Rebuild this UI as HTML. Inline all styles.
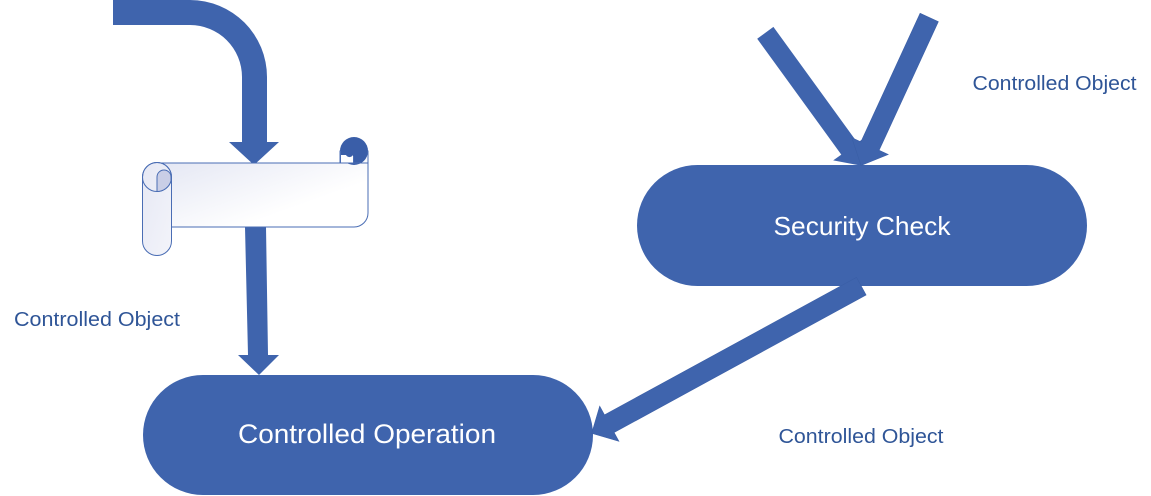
<!DOCTYPE html>
<html>
<head>
<meta charset="utf-8">
<style>
  html, body { margin: 0; padding: 0; background: #ffffff; }
  svg { display: block; }
  .lbl { font-family: "Liberation Sans", sans-serif; font-size: 20px; fill: #2f5597; }
  .wt { font-family: "Liberation Sans", sans-serif; fill: #ffffff; }
</style>
</head>
<body>
<svg width="1151" height="496" viewBox="0 0 1151 496" xmlns="http://www.w3.org/2000/svg">
  <defs>
    <linearGradient id="g1" x1="0" y1="0" x2="1" y2="1">
      <stop offset="0" stop-color="#e1e4f2"/>
      <stop offset="0.7" stop-color="#ffffff"/>
      <stop offset="1" stop-color="#ffffff"/>
    </linearGradient>
    <linearGradient id="g2" x1="0" y1="0" x2="1" y2="1">
      <stop offset="0" stop-color="#e6e8f4"/>
      <stop offset="1" stop-color="#f3f4fa"/>
    </linearGradient>
  </defs>

  <!-- Top curved arrow -->
  <path d="M113,0 L190,0 A77,77 0 0 1 267,77 L267,142 L279,142 L254,165 L229,142 L242,142 L242,77 A52,52 0 0 0 190,25 L113,25 Z" fill="#3f64ad"/>

  <!-- Arrow from scroll down to Controlled Operation -->
  <polygon points="245,227 266,227 268,355 279,355 259,375 238,355 248,355" fill="#3f64ad"/>

  <!-- Scroll body -->
  <path d="M157,163 H340 V151 H368 V213 A14,14 0 0 1 354,227 H157 Z" fill="url(#g1)" stroke="#4a6db4" stroke-width="1"/>
  <!-- top-right curl -->
  <circle cx="354" cy="151" r="14" fill="#3a5ea8"/>
  <path d="M340.5,155 H346 A4,4 0 0 0 353,155 V163 H340.5 Z" fill="#ffffff"/>
  <line x1="340.5" y1="151" x2="340.5" y2="163" stroke="#4a6db4" stroke-width="1"/>
  <line x1="353.5" y1="156" x2="353.5" y2="163" stroke="#4a6db4" stroke-width="1"/>
  <line x1="340" y1="163" x2="368" y2="163" stroke="#4a6db4" stroke-width="1"/>
  <path d="M368,151 V213" stroke="#4a6db4" stroke-width="1" fill="none"/>
  <!-- left roll -->
  <rect x="142.5" y="162.5" width="29" height="93" rx="14.5" ry="14.5" fill="url(#g2)" stroke="#4a6db4" stroke-width="1"/>
  <circle cx="157" cy="177" r="14.5" fill="none" stroke="#4a6db4" stroke-width="1"/>
  <path d="M157,191.5 V177 A7,7 0 0 1 171,177 V180.8 A14.5,14.5 0 0 1 157,191.5 Z" fill="#c9cee6" stroke="#4a6db4" stroke-width="1"/>

  <!-- Security Check pill -->
  <rect x="637" y="165" width="450" height="121" rx="60.5" ry="60.5" fill="#3f64ad"/>
  <text class="wt" x="862" y="235" font-size="26" text-anchor="middle" textLength="177" lengthAdjust="spacingAndGlyphs">Security Check</text>

  <!-- Controlled Operation pill -->
  <rect x="143" y="375" width="450" height="120" rx="60" ry="60" fill="#3f64ad"/>
  <text class="wt" x="367" y="443" font-size="27" text-anchor="middle" textLength="258" lengthAdjust="spacingAndGlyphs">Controlled Operation</text>

  <!-- Two arrows into Security Check -->
  <polygon points="773.4,26.9 857.5,142.8 865.6,137 861.7,165.7 833.2,160.4 841.3,154.6 757.2,38.7" fill="#3f64ad"/>
  <polygon points="938.3,21.7 879.1,150.3 888.2,154.5 861,165.5 851.8,137.7 860.9,141.9 920.1,13.3" fill="#3f64ad" stroke="#3a5ea6" stroke-width="0.6"/>

  <!-- Diagonal arrow Security Check -> Controlled Operation -->
  <polygon points="866.1,295 614.1,432.5 618.9,441.3 591.7,433.3 599.7,406.1 604.5,414.9 856.5,277.4" fill="#3f64ad" stroke="#3a5ea6" stroke-width="0.6"/>

  <!-- Labels -->
  <text class="lbl" x="14" y="326" textLength="166" lengthAdjust="spacingAndGlyphs">Controlled Object</text>
  <text class="lbl" x="972.5" y="90" textLength="164" lengthAdjust="spacingAndGlyphs">Controlled Object</text>
  <text class="lbl" x="778.5" y="443" textLength="165" lengthAdjust="spacingAndGlyphs">Controlled Object</text>
</svg>
</body>
</html>
